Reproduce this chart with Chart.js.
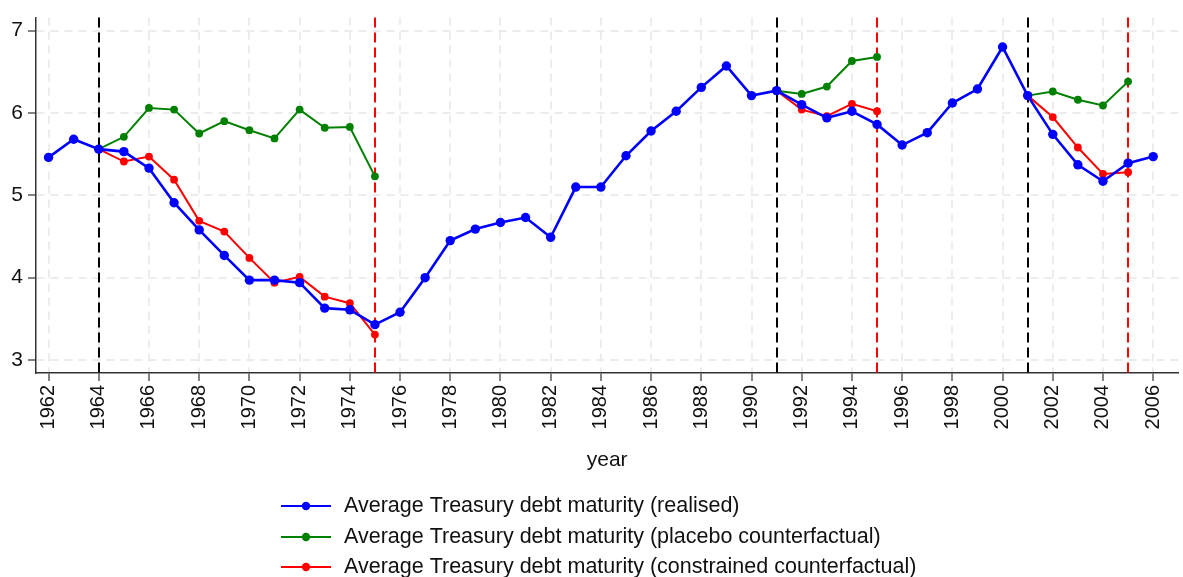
<!DOCTYPE html>
<html><head><meta charset="utf-8">
<script src="https://cdn.jsdelivr.net/npm/chart.js@4.4.1/dist/chart.umd.min.js"></script>
<style>html,body{margin:0;padding:0;background:#fff;} canvas{display:block;}</style>
</head><body>
<canvas id="c" width="1183" height="577"></canvas>
<script>
const years = [1962,1963,1964,1965,1966,1967,1968,1969,1970,1971,1972,1973,1974,1975,1976,1977,1978,1979,1980,1981,1982,1983,1984,1985,1986,1987,1988,1989,1990,1991,1992,1993,1994,1995,1996,1997,1998,1999,2000,2001,2002,2003,2004,2005,2006];
const realised = [5.46,5.68,5.56,5.53,5.33,4.91,4.58,4.27,3.97,3.97,3.94,3.63,3.61,3.43,3.58,4.00,4.45,4.59,4.67,4.73,4.49,5.10,5.10,5.48,5.78,6.02,6.31,6.57,6.21,6.27,6.10,5.94,6.02,5.86,5.61,5.76,6.12,6.29,6.80,6.21,5.74,5.37,5.17,5.39,5.47];
const placebo = [null,null,5.56,5.71,6.06,6.04,5.75,5.90,5.79,5.69,6.04,5.82,5.83,5.23,null,null,null,null,null,null,null,null,null,null,null,null,null,null,null,6.27,6.23,6.32,6.63,6.68,null,null,null,null,null,6.21,6.26,6.16,6.09,6.38,null];
const constrained = [null,null,5.56,5.41,5.47,5.19,4.69,4.56,4.24,3.94,4.01,3.77,3.69,3.31,null,null,null,null,null,null,null,null,null,null,null,null,null,null,null,6.27,6.04,5.96,6.11,6.02,null,null,null,null,null,6.21,5.95,5.58,5.26,5.28,null];
const xTickYears = [1962,1964,1966,1968,1970,1972,1974,1976,1978,1980,1982,1984,1986,1988,1990,1992,1994,1996,1998,2000,2002,2004,2006];
const yTickValues = [3,4,5,6,7];
const startYears = [1964,1991,2001];
const endYears = [1975,1995,2005];
const seriesLabels = [
  'Average Treasury debt maturity (realised)',
  'Average Treasury debt maturity (placebo counterfactual)',
  'Average Treasury debt maturity (constrained counterfactual)'
];
const seriesColors = ['#0000ff','#008000','#ff0000'];
const xTitle = 'year';
const FONT = '"Liberation Sans", Arial, Helvetica, sans-serif';

function pts(arr){ return years.map((x,i)=>({x:x, y:arr[i]})); }

const vlines = {
  id:'vlines',
  beforeDatasetsDraw(chart){
    const {ctx, chartArea:a, scales:{x}} = chart;
    ctx.save();
    ctx.lineWidth = 2;
    ctx.setLineDash([10,5]);
    const draw = (yrs, col) => {
      ctx.strokeStyle = col;
      yrs.forEach(v => {
        const px = Math.round(x.getPixelForValue(v));
        ctx.beginPath(); ctx.moveTo(px, a.top); ctx.lineTo(px, a.bottom); ctx.stroke();
      });
    };
    draw(startYears, '#000');
    draw(endYears, '#ff0000');
    ctx.restore();
  }
};

const legendPlugin = {
  id:'stackLegend',
  afterDraw(chart){
    const ctx = chart.ctx;
    ctx.save();
    const rows = [506, 537, 567];
    ctx.font = '21.5px ' + FONT;
    ctx.textBaseline = 'middle';
    ctx.textAlign = 'left';
    seriesLabels.forEach((t,i)=>{
      const y = rows[i];
      ctx.strokeStyle = seriesColors[i];
      ctx.fillStyle = seriesColors[i];
      ctx.lineWidth = 2;
      ctx.setLineDash([]);
      ctx.beginPath(); ctx.moveTo(281,y); ctx.lineTo(331,y); ctx.stroke();
      ctx.beginPath(); ctx.arc(306,y,4.2,0,Math.PI*2); ctx.fill();
      ctx.fillStyle = '#111';
      ctx.fillText(t, 344, y);
    });
    ctx.restore();
  }
};

const ds = (label, arr, col, w, r) => ({
  label, data: pts(arr), borderColor: col, backgroundColor: col,
  borderWidth: w, pointRadius: r, pointBorderWidth: 0, pointHoverRadius: r,
  tension: 0, spanGaps: false, fill: false
});

new Chart(document.getElementById('c'), {
  type: 'line',
  data: { datasets: [
    ds(seriesLabels[0], realised, seriesColors[0], 2.6, 4.7),
    ds(seriesLabels[1], placebo, seriesColors[1], 2, 3.9),
    ds(seriesLabels[2], constrained, seriesColors[2], 2, 3.9)
  ]},
  options: {
    responsive: false, animation: false, devicePixelRatio: 1,
    layout: { padding: { top: 14, right: 1, bottom: 104, left: 0 } },
    plugins: { legend: { display: false }, tooltip: { enabled: false } },
    scales: {
      x: {
        type: 'linear', min: 1961.5, max: 2007,
        afterBuildTicks: s => { s.ticks = xTickYears.map(v => ({value: v})); },
        afterFit: s => { s.height = 100; },
        ticks: { autoSkip: false, minRotation: 90, maxRotation: 90, padding: 4,
          color: '#111', font: { family: FONT, size: 20 }, callback: v => String(v) },
        grid: { color: '#ececec', lineWidth: 2, tickColor: '#333', tickLength: 8, tickWidth: 1.2 },
        border: { color: '#333', width: 1.5, dash: [8,6] },
        title: { display: true, text: xTitle, color: '#111', font: { family: FONT, size: 21 }, padding: 0 }
      },
      y: {
        min: 2.843, max: 7.157,
        afterBuildTicks: s => { s.ticks = yTickValues.map(v => ({value: v})); },
        afterFit: s => { s.width = 36; },
        ticks: { padding: 5, color: '#111', font: { family: FONT, size: 21 }, callback: v => String(v) },
        grid: { color: '#ececec', lineWidth: 2, tickColor: '#333', tickLength: 8, tickWidth: 1.2 },
        border: { color: '#333', width: 1.5, dash: [8,6] }
      }
    }
  },
  plugins: [vlines, legendPlugin]
});
</script>
</body></html>
